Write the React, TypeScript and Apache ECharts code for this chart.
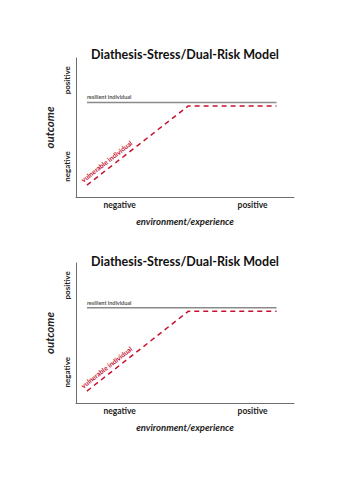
import React, { useEffect, useRef } from "react";
import * as echarts from "echarts";

const titleText = "Diathesis-Stress/Dual-Risk Model";
const xName = "environment/experience";
const yName = "outcome";
const xTickValues = [2, 8.1];
const xTickLabels = ["negative", "positive"];
const yTickValues = [2.2, 8.4];
const yTickLabels = ["negative", "positive"];
const resilientX = [0.5, 9.2];
const resilientY = [6.8, 6.8];
const vulnerableX = [0.5, 5.15, 9.2];
const vulnerableY = [0.85, 6.55, 6.55];
const resilientLabel = "resilient individual";
const vulnerableLabel = "vulnerable individual";

const panels = [
  { top: 58, height: 139, titleY: 54 },
  { top: 263, height: 140, titleY: 261 },
];

const FONT = "Lato, 'Open Sans', sans-serif";

export default function App() {
  const ref = useRef<HTMLDivElement>(null);
  useEffect(() => {
    if (!ref.current) return;
    const chart = echarts.init(ref.current, null, { renderer: "svg" });
    const grids: any[] = [];
    const xAxes: any[] = [];
    const yAxes: any[] = [];
    const series: any[] = [];
    const graphics: any[] = [];
    panels.forEach((p, i) => {
      grids.push({ left: 76, width: 218, top: p.top, height: p.height, containLabel: false });
      xAxes.push({
        type: "value",
        gridIndex: i,
        min: 0,
        max: 10,
        splitLine: { show: false },
        axisTick: { show: false },
        axisLine: { show: true, lineStyle: { color: "#6e6e6e", width: 1 } },
        axisLabel: {
          customValues: xTickValues,
          formatter: (v: number) => {
            const k = xTickValues.findIndex((t) => Math.abs(t - v) < 1e-6);
            return k >= 0 ? xTickLabels[k] : "";
          },
          fontFamily: FONT,
          fontWeight: "bold",
          fontSize: 8.5,
          color: "#222",
          margin: 3,
        },
        name: xName,
        nameLocation: "middle",
        nameGap: 19,
        nameTextStyle: { fontFamily: FONT, fontStyle: "italic", fontWeight: "bold", fontSize: 9.5, color: "#222" },
      });
      yAxes.push({
        type: "value",
        gridIndex: i,
        min: 0,
        max: 10,
        splitLine: { show: false },
        axisTick: { show: false },
        axisLine: { show: true, lineStyle: { color: "#6e6e6e", width: 1 } },
        axisLabel: {
          customValues: yTickValues,
          formatter: (v: number) => {
            const k = yTickValues.findIndex((t) => Math.abs(t - v) < 1e-6);
            return k >= 0 ? yTickLabels[k] : "";
          },
          rotate: 90,
          fontFamily: FONT,
          fontWeight: "bold",
          fontSize: 8,
          color: "#222",
          margin: 5,
        },
        name: yName,
        nameLocation: "middle",
        nameRotate: 90,
        nameGap: 17,
        nameTextStyle: { fontFamily: FONT, fontStyle: "italic", fontWeight: "bold", fontSize: 11.5, color: "#222" },
      });
      series.push({
        type: "line",
        xAxisIndex: i,
        yAxisIndex: i,
        data: resilientX.map((x, j) => [x, resilientY[j]]),
        symbol: "none",
        lineStyle: { color: "#8a8a8a", width: 1.5 },
      });
      series.push({
        type: "line",
        xAxisIndex: i,
        yAxisIndex: i,
        data: vulnerableX.map((x, j) => [x, vulnerableY[j]]),
        symbol: "none",
        lineStyle: { color: "#c8102e", width: 1.5, type: [5, 4] },
      });
      graphics.push({
        type: "text",
        x: 185,
        y: p.titleY,
        style: {
          text: titleText,
          fontFamily: FONT,
          fontWeight: "bold",
          fontSize: 12.5,
          fill: "#111",
          align: "center",
          verticalAlign: "middle",
        },
      });
    });
    chart.setOption({
      animation: false,
      grid: grids,
      xAxis: xAxes,
      yAxis: yAxes,
      series,
      graphic: graphics,
    });
    const extra: any[] = [...graphics];
    panels.forEach((_, i) => {
      const r = chart.convertToPixel({ gridIndex: i }, [resilientX[0], resilientY[0]]) as number[];
      extra.push({
        type: "text",
        x: r[0],
        y: r[1] - 2,
        style: {
          text: resilientLabel,
          fontFamily: FONT,
          fontWeight: "bold",
          fontSize: 5.5,
          fill: "#555",
          align: "left",
          verticalAlign: "bottom",
        },
      });
      const a = chart.convertToPixel({ gridIndex: i }, [vulnerableX[0], vulnerableY[0]]) as number[];
      const b = chart.convertToPixel({ gridIndex: i }, [vulnerableX[1], vulnerableY[1]]) as number[];
      const ang = Math.atan2(a[1] - b[1], b[0] - a[0]);
      extra.push({
        type: "text",
        x: a[0] - 3,
        y: a[1] - 2,
        rotation: ang,
        style: {
          text: vulnerableLabel,
          fontFamily: FONT,
          fontWeight: "bold",
          fontSize: 6.8,
          fill: "#c8102e",
          align: "left",
          verticalAlign: "bottom",
        },
      });
    });
    chart.setOption({ graphic: extra });
    return () => chart.dispose();
  }, []);
  return (
    <div
      ref={ref}
      style={{ position: "absolute", left: 0, top: 0, width: 353, height: 500, background: "#fff" }}
    />
  );
}
